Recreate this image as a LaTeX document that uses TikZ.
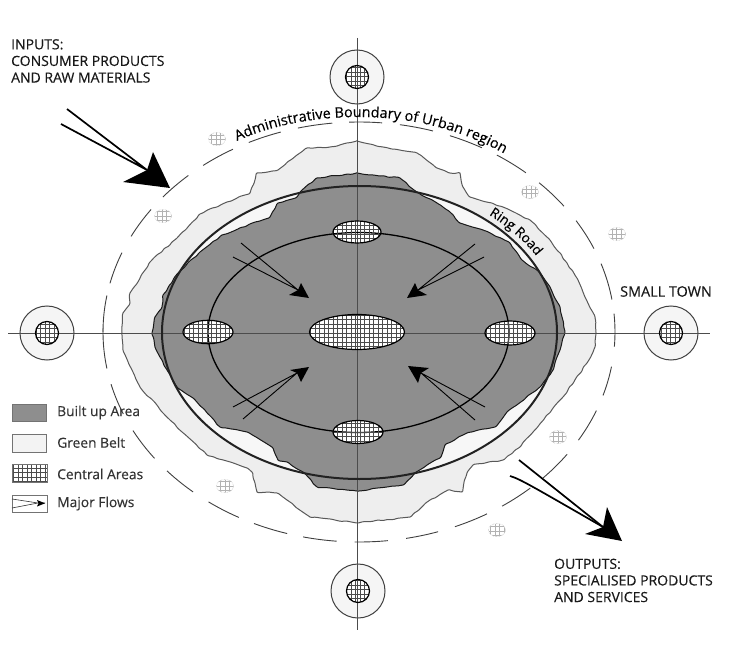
\documentclass[tikz,border=0pt]{standalone}
\usepackage{fontspec}
\setmainfont[FakeBold=0.25]{Open Sans}
\usetikzlibrary{decorations.text,decorations.pathmorphing}
\definecolor{builtc}{HTML}{8E8E8E}
\definecolor{beltc}{HTML}{EEEEEE}
\definecolor{inkc}{HTML}{222222}
\newcommand{\labelfont}{\fontsize{14}{16.6}\selectfont}
\newcommand{\hatchfill}[5]{% cx cy rx ry colour
  \begin{scope}
    \clip (#1,#2) ellipse (#3 and #4);
    \draw[#5,line width=.45pt,step=4.5pt] ({#1-#3},{#2-#4}) grid ({#1+#3},{#2+#4});
  \end{scope}}
\newcommand{\area}[4]{\hatchfill{#1}{#2}{#3}{#4}{black!70}\draw[areaedge] (#1,#2) ellipse (#3 and #4);}
\newcommand{\whitearea}[4]{\fill[white] (#1,#2) ellipse (#3 and #4);}
\newcommand{\village}[2]{\fill[white] (#1,#2) ellipse (8.5 and 6.5);\hatchfill{#1}{#2}{8.5}{6.5}{black!30}\draw[black!30,line width=.5pt,densely dotted] (#1,#2) ellipse (8.5 and 6.5);}
\newcommand{\town}[2]{%
  \draw[townring] (#1,#2) circle (27);
  \fill[white] (#1,#2) circle (11.5);}
\newcommand{\towncore}[2]{\hatchfill{#1}{#2}{11.5}{11.5}{black!70}\draw[areaedge] (#1,#2) circle (11.5);}
\newcommand{\admdash}[2]{\draw[admline] plot[smooth,domain=#1:#2,samples=9] ({359+256*cos(\x)},{332-210*sin(\x)});}
\tikzset{
  areaedge/.style={draw=black,line width=1.2pt},
  townring/.style={draw=black!75,line width=1pt,fill=beltc!60},
  axisline/.style={draw=black!70,line width=.9pt},
  admline/.style={draw=black!75,line width=.9pt},
  flowline/.style={draw=black,line width=.9pt},
  bigflow/.style={draw=black,line width=1.7pt},
  headfill/.style={fill=black,draw=none},
  legbox/.style={draw=black!55,line width=.7pt},
  wavy/.style={decorate,decoration={random steps,segment length=5pt,amplitude=.7pt},rounded corners=1pt,line join=round},
  txt/.style={inner sep=0pt,anchor=north west,align=left,text=black!90,font=\labelfont},
  legtxt/.style={inner sep=0pt,anchor=west,text=black!80,font=\fontsize{13.8}{15}\selectfont},
}
\begin{document}
\begin{tikzpicture}[x=1pt,y=-1pt]
\pgfmathsetseed{7}
\useasboundingbox[fill=white] (0,0) rectangle (731,658);
% green belt
\filldraw[fill=beltc,draw=black!65,line width=1pt,wavy]
 (357,141)--(330,147)--(307,148)--(297,155)--(278,170)--(257,173)--(250,193)--(227,202)--(200,214)--(177,238)--(150,262)--(130,293)--(130,303)--(123,313)--(122,333)--(123,350)--(132,370)--(140,387)--(170,420)--(207,455)--(247,468)--(252,472)--(257,492)--(277,493)--(287,500)--(310,517)--(357,523)--(410,517)--(430,500)--(448,490)--(462,492)--(467,473)--(473,465)--(503,460)--(520,447)--(563,397)--(587,363)--(595,347)--(596,333)--(595,317)--(585,297)--(578,280)--(567,263)--(550,240)--(530,220)--(503,207)--(470,197)--(463,187)--(460,173)--(450,173)--(437,168)--(417,153)--(383,147)--cycle;
% inside ring
\fill[white,opacity=.55] (359.5,332.5) ellipse (197.5 and 146.5);
% built-up
\filldraw[fill=builtc,draw=black!90,line width=1pt,wavy]
 (357,173)--(317,178)--(302,190)--(297,197)--(278,203)--(270,217)--(222,235)--(200,252)--(178,273)--(163,295)--(162,307)--(155,317)--(152,333)--(155,347)--(167,370)--(177,387)--(193,398)--(220,427)--(247,432)--(272,447)--(278,460)--(287,462)--(303,472)--(317,487)--(357,491)--(403,485)--(415,473)--(423,468)--(440,458)--(445,445)--(467,433)--(495,427)--(507,412)--(540,387)--(553,370)--(560,350)--(565,333)--(560,307)--(550,287)--(540,273)--(522,260)--(510,243)--(483,230)--(460,223)--(450,212)--(437,203)--(417,192)--(410,187)--(400,178)--(380,176)--cycle;
% towns and area fills
\town{357}{77}\town{358}{591}\town{47}{333}\town{671}{333}
\whitearea{357}{332}{47.5}{17.5}
\whitearea{357}{232}{24}{11}
\whitearea{358}{432}{25}{11.5}
\whitearea{208}{332}{25}{11.7}
\whitearea{510}{333}{25}{12}
% axes
\draw[axisline] (357,38)--(357,630);
\draw[axisline] (8,333)--(710,333);
% ring road, inner ring
\draw[inkc,line width=2pt] (359.5,332.5) ellipse (197.5 and 146.5);
\draw[black,line width=1.3pt] (358.5,332.5) ellipse (150.5 and 100);
% central areas
\area{357}{332}{47.5}{17.5}
\area{357}{232}{24}{11}
\area{358}{432}{25}{11.5}
\area{208}{332}{25}{11.7}
\area{510}{333}{25}{12}
\towncore{357}{77}\towncore{358}{591}\towncore{47}{333}\towncore{671}{333}
% villages
\village{217}{139}\village{163}{216}\village{530}{192}\village{617}{234}\village{558}{437}\village{225}{486}\village{497}{530}
% administrative boundary dashes
\admdash{115.5}{107.8}\admdash{103.8}{96}\admdash{92.2}{84.8}\admdash{80.8}{73.2}\admdash{69.2}{61.3}
\admdash{57.4}{49.3}\admdash{45.3}{36.8}\admdash{32}{23.4}\admdash{19}{8.9}\admdash{5}{-4}
\admdash{-9.5}{-17.6}\admdash{-22}{-31}\admdash{-35.6}{-44}\admdash{-48}{-56}\admdash{-60}{-68}
\admdash{-72}{-79.4}\admdash{-83.5}{-91}\admdash{-95}{-102.6}\admdash{-106.3}{-114.2}\admdash{-118}{-126}
\admdash{-130.4}{-138.6}\admdash{-143}{-152}\admdash{-157}{-165.6}\admdash{-170}{-181}
\admdash{180}{170}\admdash{166.6}{157.8}\admdash{152.9}{144.3}\admdash{140}{131.8}\admdash{127.5}{119.5}
% curved labels
\path[decorate,decoration={text along path,text align=left,
  text={|\fontsize{14.4}{16}\selectfont\color{black}|Administrative Boundary of Urban region}}]
  (237,141) .. controls (275,124) and (317,117) .. (359,117) .. controls (410,117) and (465,129) .. (515,160) .. controls (530,170) and (545,182) .. (555,195);
\path[decorate,decoration={text along path,text align=left,
  text={|\fontsize{13.5}{15}\selectfont\color{black}|Ring Road}}]
  (488.9,214.9) .. controls (531.6,240.8) and (558.4,278.2) .. (563.2,318.7);
% inner flows
\draw[flowline] (241,243)--(298,290) (233,257)--(298,290);
\fill[headfill] (309,298)--(301,283)--(298,290)--(289,295)--cycle;
\draw[flowline] (475,244)--(418,290) (484,257)--(418,290);
\fill[headfill] (407,298)--(415,283)--(418,290)--(427,295)--cycle;
\draw[flowline] (233,407)--(297,373) (243,419)--(297,373);
\fill[headfill] (309,367)--(290,370)--(297,373)--(301,382)--cycle;
\draw[flowline] (485,407)--(421,373) (475,420)--(421,373);
\fill[headfill] (408,366)--(429,368)--(421,373)--(418,383)--cycle;
% big flows
\draw[bigflow] (67,109)--(147,170) (61,124)--(147,170);
\fill[headfill] (170,188)--(153,152)--(147,170)--(123,182)--cycle;
\draw[bigflow] (519,460)--(603,527);
\draw[bigflow] (510,476) .. controls (520,479) and (530,485) .. (603,527);
\fill[headfill] (622,541)--(607,507)--(603,527)--(585,534)--cycle;
% legend
\filldraw[legbox,fill=builtc] (12,404) rectangle (46,421);
\filldraw[legbox,fill=beltc!70] (12,434) rectangle (46,452);
\begin{scope}
 \clip (12,464) rectangle (47,482);
 \draw[black!70,line width=.45pt,step=4.5pt] (12,464) grid (47,482);
\end{scope}
\draw[legbox] (12,464) rectangle (47,482);
\draw[legbox] (12,495) rectangle (47,512);
\draw[black!80,line width=.6pt] (12,499)--(38,503) (12,508)--(38,503)--(45,503);
\fill[headfill] (45,503.3)--(37,500)--(38.5,503.3)--(37,506.5)--cycle;
\node[legtxt] (leg1) at (57,412.5) {Built up Area};
\node[legtxt] (leg2) at (57,442.5) {Green Belt};
\node[legtxt] (leg3) at (57,474) {Central Areas};
\node[legtxt] (leg4) at (57,503.5) {Major Flows};
% labels
\node[txt] (inputs) at (11,39) {INPUTS:\\CONSUMER PRODUCTS\\AND RAW MATERIALS};
\node[txt] (outputs) at (554,558.5) {OUTPUTS:\\SPECIALISED PRODUCTS\\AND SERVICES};
\node[txt,font=\fontsize{14.4}{16}\selectfont] (smalltown) at (620,286) {SMALL TOWN};
\end{tikzpicture}
\end{document}
